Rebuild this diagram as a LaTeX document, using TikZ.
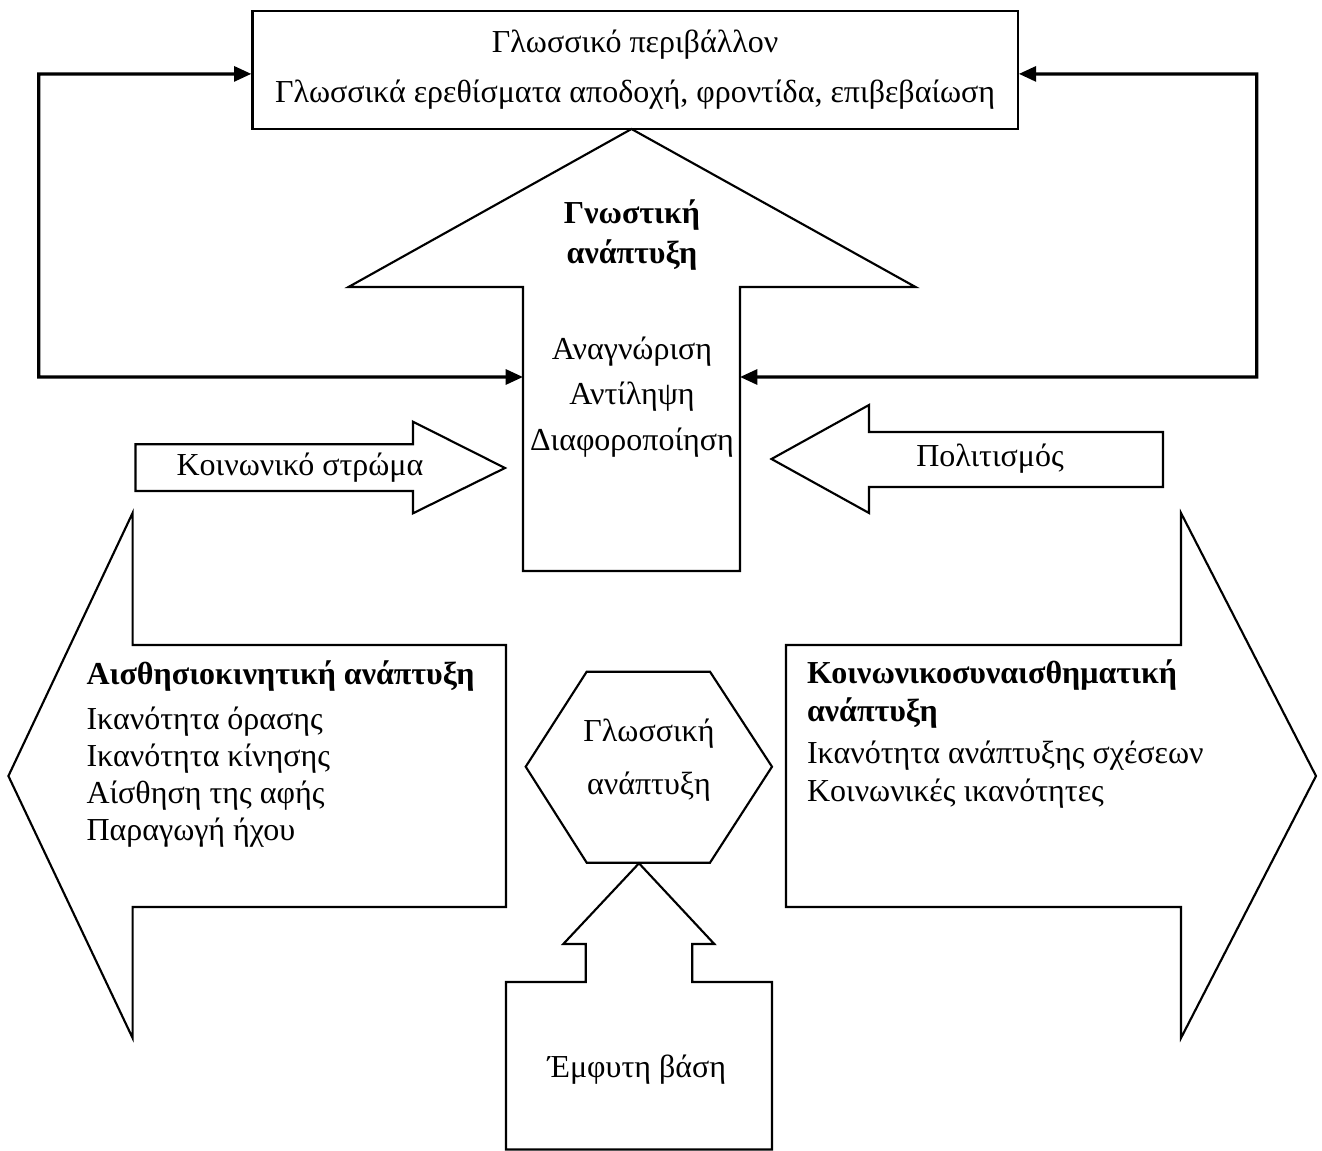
\documentclass[tikz,border=0pt]{standalone}
\usepackage{fontspec}
\setmainfont{Liberation Serif}
\usetikzlibrary{arrows.meta,positioning}

\tikzset{
  outline/.style={draw, line width=0.8pt, line join=miter},
  feedback/.style={draw, line width=1.2pt, line join=miter,
    {Triangle[length=6.5pt,width=5.6pt]}-{Triangle[length=6.5pt,width=5.6pt]}},
  lbl/.style={inner sep=0pt, align=center, font=\fontsize{12}{14}\selectfont},
  lbllist/.style={inner sep=0pt, align=left, anchor=north west, font=\fontsize{12}{13.9}\selectfont},
}

\begin{document}
\begin{tikzpicture}[x=0.375pt, y=-0.375pt]
\useasboundingbox (0,0) rectangle (1322,1151);

% linguistic environment
\node[draw, line width=0.8pt, minimum width=287pt, minimum height=44.4pt, lbl,
      font=\fontsize{12}{18.75}\selectfont] (env) at (635.1,69.9)
      {Γλωσσικό περιβάλλον\\Γλωσσικά ερεθίσματα αποδοχή, φροντίδα, επιβεβαίωση};

% cognitive development (big up arrow)
\draw[outline] (523,571) -- (523,287) -- (348.5,287) -- (631.5,129) -- (915.5,287)
  -- (740,287) -- (740,571) -- cycle;
\node[lbl, font=\bfseries\fontsize{12}{15}\selectfont] (cogtitle) at (632,235) {Γνωστική\\ανάπτυξη};
\node[lbl, font=\fontsize{12}{17}\selectfont] (cogn) at (632,397) {Αναγνώριση\\Αντίληψη\\Διαφοροποίηση};
\coordinate (cogw) at (523,377);
\coordinate (coge) at (740,377);

% feedback loops
\coordinate (lfbot) at (38.7,377);
\coordinate (lftop) at (38.7,74);
\coordinate (rtbot) at (1256.8,377);
\coordinate (rttop) at (1256.8,74);
\draw[feedback] (cogw) -- (lfbot) -- (lftop) -- ([yshift=-1.5pt]env.west);
\draw[feedback] (coge) -- (rtbot) -- (rttop) -- ([yshift=-1.5pt]env.east);

% side influences
\draw[outline] (135.5,444.3) -- (413,444.3) -- (413,421.7) -- (505,468) -- (413,513.3)
  -- (413,491) -- (135.5,491) -- cycle;
\node[lbl] (strata) at (300,468) {Κοινωνικό στρώμα};
\draw[outline] (1163,432) -- (869,432) -- (869,405) -- (771.5,459) -- (869,513)
  -- (869,487) -- (1163,487) -- cycle;
\node[lbl] (culture) at (990,459) {Πολιτισμός};

% sensorimotor / socio-emotional arrows
\draw[outline] (506,645) -- (132.6,645) -- (132.6,513) -- (8.4,776) -- (132.6,1038)
  -- (132.6,907) -- (506,907) -- cycle;
\draw[outline] (786,645) -- (1181,645) -- (1181,513) -- (1316,776) -- (1181,1038)
  -- (1181,907) -- (786,907) -- cycle;
\node[lbllist] (sensor) at (86,660) {\textbf{Αισθησιοκινητική ανάπτυξη}\\[3pt]
  Ικανότητα όρασης\\Ικανότητα κίνησης\\Αίσθηση της αφής\\Παραγωγή ήχου};
\node[lbllist, font=\fontsize{12}{14.5}\selectfont] (social) at (806.5,659)
  {\textbf{Κοινωνικοσυναισθηματική}\\\textbf{ανάπτυξη}\\[1pt]
  Ικανότητα ανάπτυξης σχέσεων\\Κοινωνικές ικανότητες};

% language development
\draw[outline] (586.7,671.7) -- (710,671.7) -- (772,766.7) -- (710,862.7) -- (586.7,862.7)
  -- (525.7,766.7) -- cycle;
\node[lbl, font=\fontsize{12}{20}\selectfont] (lang) at (649,760) {Γλωσσική\\ανάπτυξη};

% innate basis
\draw[outline] (639,863.3) -- (714.3,944) -- (692.3,944) -- (692.3,982) -- (772,982)
  -- (772,1149.5) -- (506,1149.5) -- (506,982) -- (585.7,982) -- (585.7,944)
  -- (563.3,944) -- cycle;
\node[lbl] (innate) at (637,1070) {Έμφυτη βάση};
\end{tikzpicture}
\end{document}
